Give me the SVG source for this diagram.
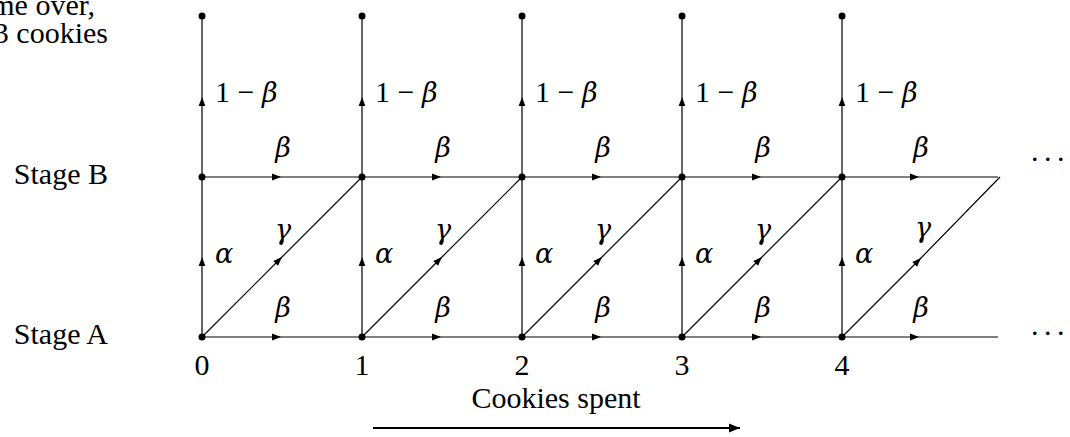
<svg xmlns="http://www.w3.org/2000/svg" width="1070" height="437" viewBox="0 0 1070 437">
<style>
text{font-family:"Liberation Serif","Times New Roman",serif;font-size:30px;fill:#000}
.i{font-family:"DejaVu Serif","Liberation Serif",serif;font-style:italic;font-size:27px}
.e{fill:none;stroke:#000;stroke-width:1.2;marker-mid:url(#ah)}
.v{fill:none;stroke:#333;stroke-width:1.5;marker-mid:url(#ah)}
.d{fill:#000}
.c{text-anchor:middle}
</style>
<defs>
<marker id="ah" viewBox="-10 -4 11 8" refX="0" refY="0" markerWidth="11" markerHeight="8" markerUnits="userSpaceOnUse" orient="auto">
<path d="M0,0 L-9,-3.4 L-9,3.4 Z" fill="#000"/>
</marker>
<marker id="big" viewBox="-12 -5 13 10" refX="0" refY="0" markerWidth="13" markerHeight="10" markerUnits="userSpaceOnUse" orient="auto">
<path d="M0,0 L-11,-4.5 L-11,4.5 Z" fill="#000"/>
</marker>
</defs>
<g id="caption">
<text x="95" y="15" text-anchor="end">me over,</text>
<text x="108" y="43" text-anchor="end">3 cookies</text>
</g>
<g id="stage-labels">
<text x="108" y="184" text-anchor="end">Stage B</text>
<text x="108" y="344" text-anchor="end">Stage A</text>
</g>
<g id="connectors">
<path class="v" d="M202,177 L202,97 L202,16"/>
<path class="v" d="M362,177 L362,97 L362,16"/>
<path class="v" d="M522,177 L522,97 L522,16"/>
<path class="v" d="M682,177 L682,97 L682,16"/>
<path class="v" d="M842,177 L842,97 L842,16"/>
<path class="v" d="M202,337 L202,257 L202,177"/>
<path class="v" d="M362,337 L362,257 L362,177"/>
<path class="v" d="M522,337 L522,257 L522,177"/>
<path class="v" d="M682,337 L682,257 L682,177"/>
<path class="v" d="M842,337 L842,257 L842,177"/>
<path class="e" d="M202,177 L281,177 L362,177"/>
<path class="e" d="M362,177 L441,177 L522,177"/>
<path class="e" d="M522,177 L601,177 L682,177"/>
<path class="e" d="M682,177 L761,177 L842,177"/>
<path class="e" d="M842,177 L919,177 L998,177"/>
<path class="e" d="M202,337 L281,337 L362,337"/>
<path class="e" d="M362,337 L441,337 L522,337"/>
<path class="e" d="M522,337 L601,337 L682,337"/>
<path class="e" d="M682,337 L761,337 L842,337"/>
<path class="e" d="M842,337 L919,337 L998,337"/>
<path class="e" d="M202,337 L282,257 L362,177"/>
<path class="e" d="M362,337 L442,257 L522,177"/>
<path class="e" d="M522,337 L602,257 L682,177"/>
<path class="e" d="M682,337 L762,257 L842,177"/>
<path class="e" d="M842,337 L921,258 L1000,177"/>
<path d="M373,428 L740,428" fill="none" stroke="#000" stroke-width="2" marker-end="url(#big)"/>
</g>
<g id="edge-labels">
<text x="215" y="102">1 − <tspan class="i">β</tspan></text>
<text x="375" y="102">1 − <tspan class="i">β</tspan></text>
<text x="535" y="102">1 − <tspan class="i">β</tspan></text>
<text x="695" y="102">1 − <tspan class="i">β</tspan></text>
<text x="855" y="102">1 − <tspan class="i">β</tspan></text>
<text class="i c" x="283" y="157">β</text>
<text class="i c" x="443" y="157">β</text>
<text class="i c" x="603" y="157">β</text>
<text class="i c" x="763" y="157">β</text>
<text class="i c" x="921" y="157">β</text>
<text class="i c" x="283" y="317">β</text>
<text class="i c" x="443" y="317">β</text>
<text class="i c" x="603" y="317">β</text>
<text class="i c" x="763" y="317">β</text>
<text class="i c" x="921" y="317">β</text>
<text class="i c" x="283" y="239">γ</text>
<text class="i c" x="443" y="239">γ</text>
<text class="i c" x="603" y="239">γ</text>
<text class="i c" x="763" y="239">γ</text>
<text class="i c" x="923" y="237">γ</text>
<text class="i" x="215" y="263">α</text>
<text class="i" x="375" y="263">α</text>
<text class="i" x="535" y="263">α</text>
<text class="i" x="695" y="263">α</text>
<text class="i" x="855" y="263">α</text>
<text x="1031" y="161" letter-spacing="-1">. . .</text>
<text x="1031" y="335" letter-spacing="-1">. . .</text>
</g>
<g id="nodes-top">
<g id="T0"><circle class="d" cx="202" cy="16" r="3.5"/></g>
<g id="T1"><circle class="d" cx="362" cy="16" r="3.5"/></g>
<g id="T2"><circle class="d" cx="522" cy="16" r="3.5"/></g>
<g id="T3"><circle class="d" cx="682" cy="16" r="3.5"/></g>
<g id="T4"><circle class="d" cx="842" cy="16" r="3.5"/></g>
</g>
<g id="nodes-B">
<g id="B0"><circle class="d" cx="202" cy="177" r="3.5"/></g>
<g id="B1"><circle class="d" cx="362" cy="177" r="3.5"/></g>
<g id="B2"><circle class="d" cx="522" cy="177" r="3.5"/></g>
<g id="B3"><circle class="d" cx="682" cy="177" r="3.5"/></g>
<g id="B4"><circle class="d" cx="842" cy="177" r="3.5"/></g>
</g>
<g id="nodes-A">
<g id="A0"><circle class="d" cx="202" cy="337" r="3.5"/><text class="c" x="202" y="375">0</text></g>
<g id="A1"><circle class="d" cx="362" cy="337" r="3.5"/><text class="c" x="362" y="375">1</text></g>
<g id="A2"><circle class="d" cx="522" cy="337" r="3.5"/><text class="c" x="522" y="375">2</text></g>
<g id="A3"><circle class="d" cx="682" cy="337" r="3.5"/><text class="c" x="682" y="375">3</text></g>
<g id="A4"><circle class="d" cx="842" cy="337" r="3.5"/><text class="c" x="842" y="375">4</text></g>
</g>
<g id="axis-label">
<text class="c" x="556" y="408">Cookies spent</text>
</g>
</svg>
